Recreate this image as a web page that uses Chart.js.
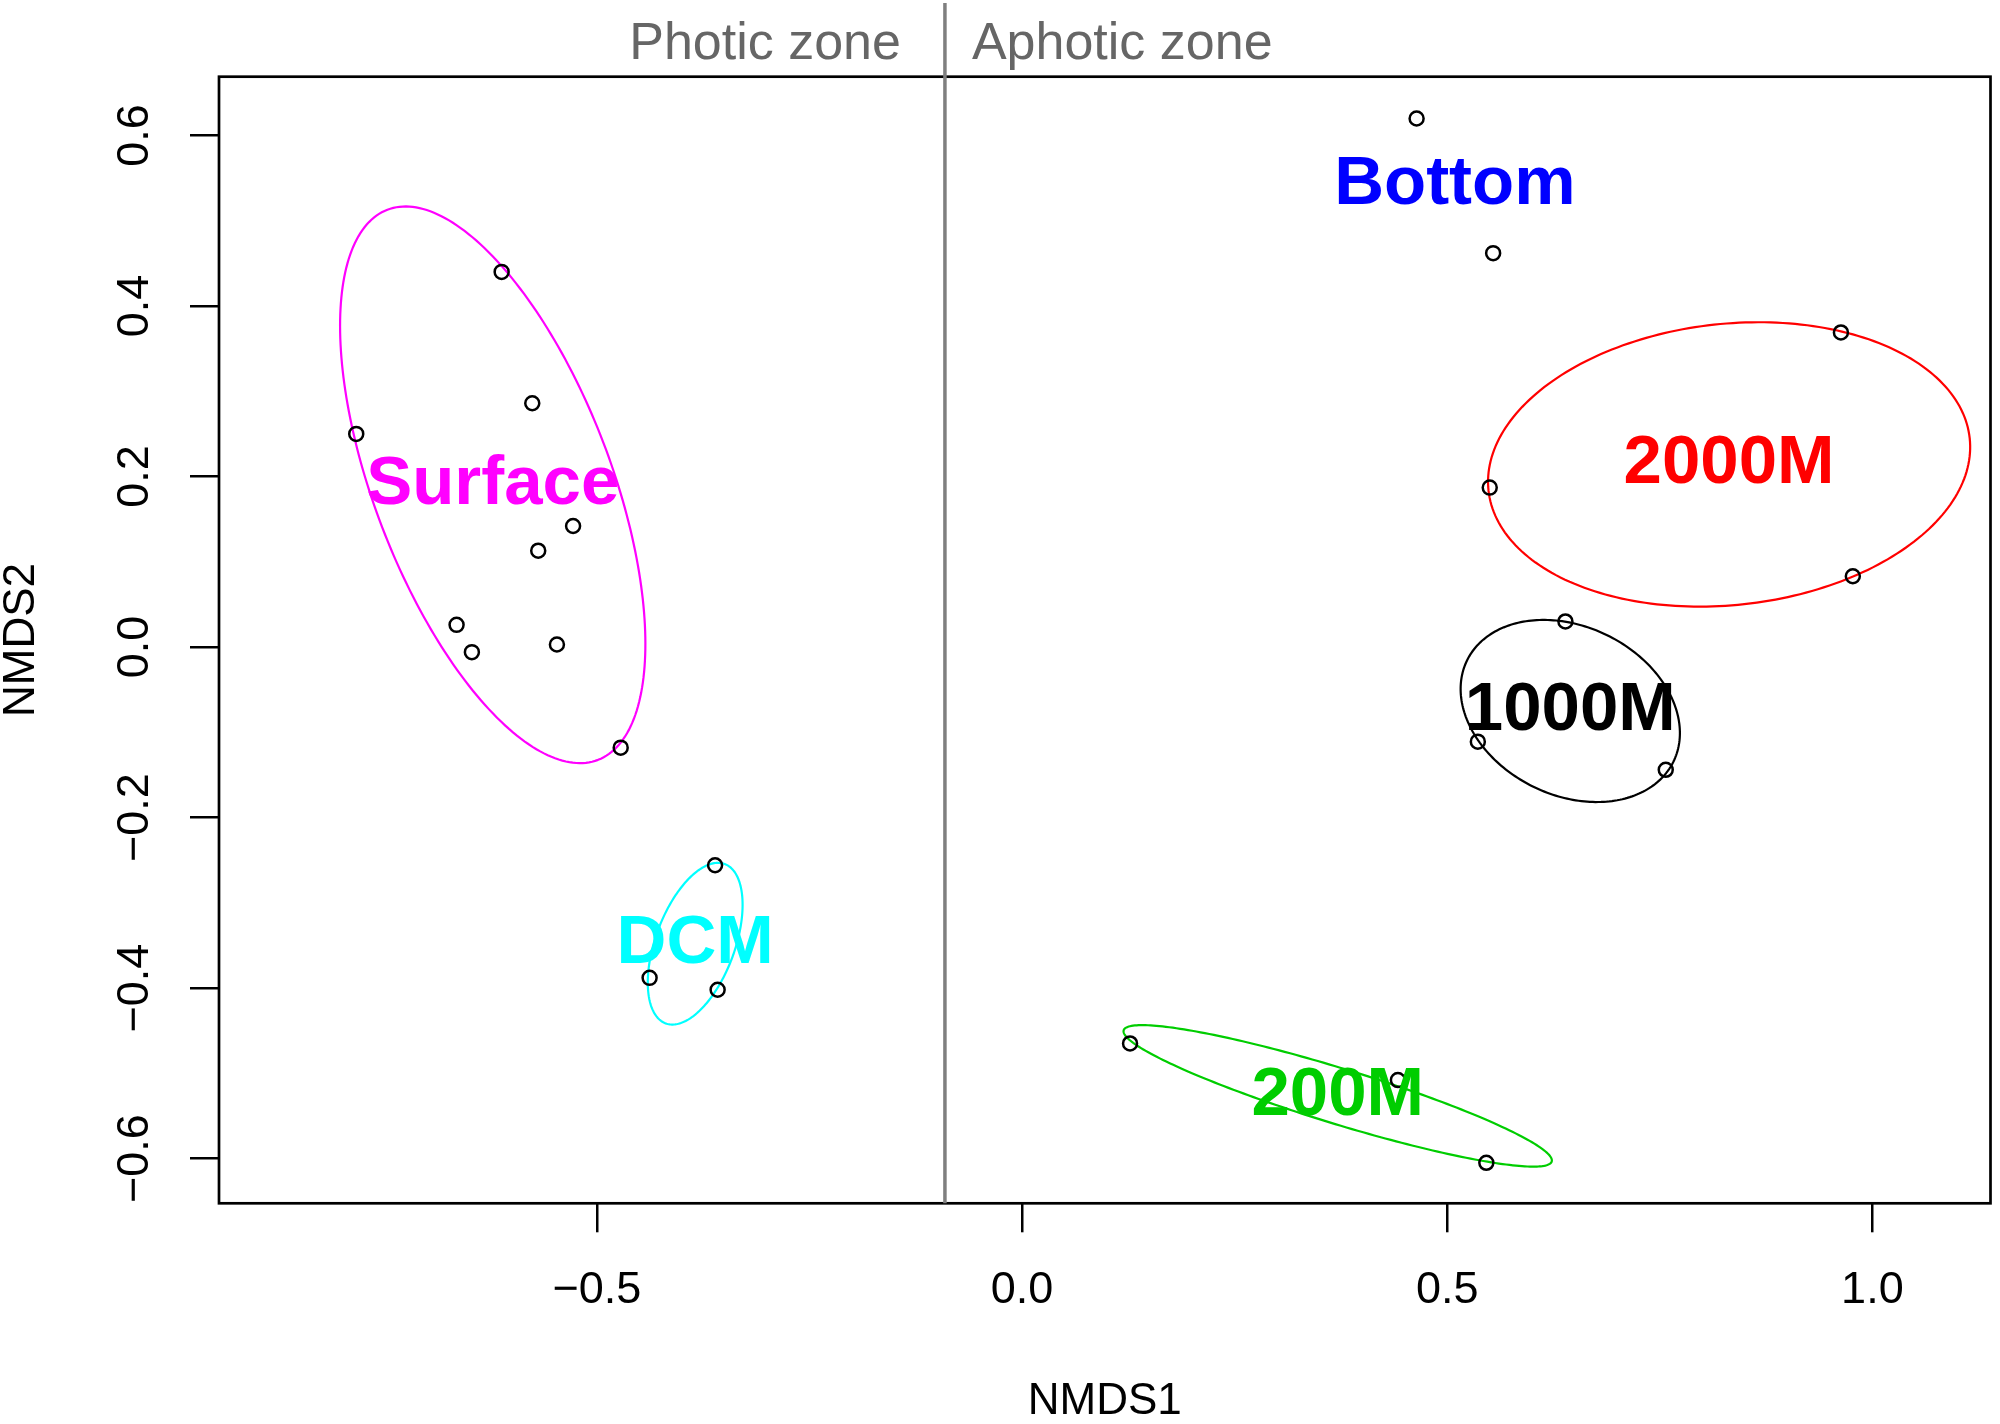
<!DOCTYPE html>
<html>
<head>
<meta charset="utf-8">
<script src="https://cdn.jsdelivr.net/npm/chart.js@4.4.1/dist/chart.umd.min.js"></script>
<style>
html,body{margin:0;padding:0;background:#ffffff;}
#wrap{width:2000px;height:1424px;position:relative;}
</style>
</head>
<body>
<div id="wrap"><canvas id="c" width="2000" height="1424"></canvas></div>
<script>
// ---- data (NMDS site scores) ----
const groupNames  = ['Bottom', '2000M', '1000M', '200M', 'Surface', 'DCM'];
const groupColors = ['#0000FF', '#FF0000', '#000000', '#00CD00', '#FF00FF', '#00FFFF'];

const bottomX  = [0.464, 0.554];
const bottomY  = [0.620, 0.462];
const m2000X   = [0.963, 0.550, 0.977];
const m2000Y   = [0.369, 0.187, 0.083];
const m1000X   = [0.639, 0.536, 0.757];
const m1000Y   = [0.030, -0.111, -0.144];
const m200X    = [0.127, 0.442, 0.546];
const m200Y    = [-0.465, -0.508, -0.605];
const surfaceX = [-0.612, -0.576, -0.783, -0.528, -0.569, -0.665, -0.647, -0.547, -0.472];
const surfaceY = [0.440, 0.286, 0.250, 0.142, 0.113, 0.026, -0.006, 0.003, -0.118];
const dcmX     = [-0.361, -0.438, -0.358];
const dcmY     = [-0.256, -0.388, -0.402];

// group label positions (group centres)
const labelX = [0.509, 0.8315, 0.6447, 0.3712, -0.6225, -0.3844];
const labelY = [0.542, 0.2142, -0.075, -0.5265, 0.1903, -0.348];

// dispersion ellipses: centre, semi-axes, rotation (degrees)
const ellipseGroup = ['2000M', '1000M', '200M', 'Surface', 'DCM'];
const ellipseCX    = [0.8315, 0.6447, 0.3712, -0.6225, -0.3844];
const ellipseCY    = [0.2142, -0.075, -0.5265, 0.1903, -0.348];
const ellipseA     = [0.2846, 0.1351, 0.2632, 0.3456, 0.0997];
const ellipseB     = [0.1649, 0.0989, 0.0325, 0.1392, 0.0465];
const ellipseAngle = [6.2, -26.0, -17.0, -69.0, 69.6];

const xTickValues = [-0.5, 0.0, 0.5, 1.0];
const xTickLabels = ['\u22120.5', '0.0', '0.5', '1.0'];
const yTickValues = [-0.6, -0.4, -0.2, 0.0, 0.2, 0.4, 0.6];
const yTickLabels = ['\u22120.6', '\u22120.4', '\u22120.2', '0.0', '0.2', '0.4', '0.6'];
const xRange = [-0.9444, 1.1389];
const yRange = [-0.6525, 0.6690];
const axisTitles = ['NMDS1', 'NMDS2'];

const zoneBoundary = -0.0907;
const zoneLabels = ['Photic zone', 'Aphotic zone'];

// ---- chart ----
const FONT = '"Liberation Sans", Arial, Helvetica, sans-serif';
Chart.defaults.font.family = FONT;
Chart.defaults.color = '#000000';

const seriesX = [bottomX, m2000X, m1000X, m200X, surfaceX, dcmX];
const seriesY = [bottomY, m2000Y, m1000Y, m200Y, surfaceY, dcmY];
const datasets = groupNames.map((g, i) => ({
  label: g,
  data: seriesX[i].map((x, k) => ({x: x, y: seriesY[i][k]})),
  pointStyle: 'circle',
  pointRadius: 7,
  pointHoverRadius: 7,
  pointBorderWidth: 2.5,
  pointBorderColor: '#000000',
  pointBackgroundColor: 'rgba(0,0,0,0)',
  showLine: false
}));

const overlay = {
  id: 'overlay',
  beforeDatasetsDraw(chart) {
    const {ctx, scales: {x, y}} = chart;
    ctx.save();
    ellipseGroup.forEach((g, i) => {
      const col = groupColors[groupNames.indexOf(g)];
      const th = ellipseAngle[i] * Math.PI / 180;
      const cx = ellipseCX[i], cy = ellipseCY[i];
      const c = [x.getPixelForValue(cx), y.getPixelForValue(cy)];
      const pa = [x.getPixelForValue(cx + ellipseA[i] * Math.cos(th)) - c[0],
                  y.getPixelForValue(cy + ellipseA[i] * Math.sin(th)) - c[1]];
      const pb = [x.getPixelForValue(cx - ellipseB[i] * Math.sin(th)) - c[0],
                  y.getPixelForValue(cy + ellipseB[i] * Math.cos(th)) - c[1]];
      ctx.beginPath();
      const n = 240;
      for (let k = 0; k <= n; k++) {
        const t = k / n * 2 * Math.PI;
        const px = c[0] + pa[0] * Math.cos(t) + pb[0] * Math.sin(t);
        const py = c[1] + pa[1] * Math.cos(t) + pb[1] * Math.sin(t);
        if (k === 0) ctx.moveTo(px, py); else ctx.lineTo(px, py);
      }
      ctx.closePath();
      ctx.strokeStyle = col;
      ctx.lineWidth = 2.2;
      ctx.stroke();
    });
    ctx.restore();
  },
  afterDatasetsDraw(chart) {
    const {ctx, scales: {x, y}} = chart;
    ctx.save();
    ctx.font = 'bold 69px ' + FONT;
    ctx.textAlign = 'center';
    ctx.textBaseline = 'middle';
    groupNames.forEach((g, i) => {
      ctx.fillStyle = groupColors[i];
      ctx.fillText(g, x.getPixelForValue(labelX[i]), y.getPixelForValue(labelY[i]));
    });
    ctx.restore();
  },
  afterDraw(chart) {
    const {ctx, chartArea: a, scales: {x}} = chart;
    ctx.save();
    ctx.strokeStyle = '#000000';
    ctx.lineWidth = 2.7;
    ctx.strokeRect(a.left, a.top, a.right - a.left, a.bottom - a.top);
    const lx = x.getPixelForValue(zoneBoundary);
    ctx.strokeStyle = '#7F7F7F';
    ctx.lineWidth = 3.5;
    ctx.beginPath();
    ctx.moveTo(lx, 3);
    ctx.lineTo(lx, a.bottom);
    ctx.stroke();
    ctx.fillStyle = '#666666';
    ctx.font = '52px ' + FONT;
    ctx.textBaseline = 'alphabetic';
    ctx.textAlign = 'right';
    ctx.fillText(zoneLabels[0], lx - 44, 59);
    ctx.textAlign = 'left';
    ctx.fillText(zoneLabels[1], lx + 27, 59);
    ctx.restore();
  }
};

new Chart(document.getElementById('c'), {
  type: 'scatter',
  data: {datasets: datasets},
  options: {
    responsive: false,
    animation: false,
    devicePixelRatio: 1,
    layout: {padding: {top: 76.7, right: 5, bottom: 0, left: 0}},
    plugins: {legend: {display: false}, tooltip: {enabled: false}},
    scales: {
      x: {
        type: 'linear',
        min: xRange[0],
        max: xRange[1],
        afterBuildTicks: s => { s.ticks = xTickValues.map(v => ({value: v})); },
        afterFit: s => { s.height = 220.7; },
        grid: {drawOnChartArea: false, drawTicks: true, tickLength: 29, tickWidth: 2.5, tickColor: '#000000', lineWidth: 2.5, color: '#000000'},
        border: {display: false},
        ticks: {
          color: '#000000',
          font: {size: 45},
          padding: 31,
          maxRotation: 0,
          minRotation: 0,
          callback: (v, i) => xTickLabels[i]
        },
        title: {display: true, text: axisTitles[0], color: '#000000', font: {size: 44, lineHeight: 1}, padding: {top: 0, bottom: 0}}
      },
      y: {
        type: 'linear',
        min: yRange[0],
        max: yRange[1],
        afterBuildTicks: s => { s.ticks = yTickValues.map(v => ({value: v})); },
        afterFit: s => { s.width = 219; },
        grid: {drawOnChartArea: false, drawTicks: true, tickLength: 29, tickWidth: 2.5, tickColor: '#000000', lineWidth: 2.5, color: '#000000'},
        border: {display: false},
        ticks: {
          color: '#000000',
          font: {size: 45},
          padding: 10,
          minRotation: 90,
          maxRotation: 90,
          crossAlign: 'center',
          callback: (v, i) => yTickLabels[i]
        },
        title: {display: true, text: axisTitles[1], color: '#000000', font: {size: 44, lineHeight: 1}, padding: {top: 0, bottom: 0}}
      }
    }
  },
  plugins: [overlay]
});
</script>
</body>
</html>
